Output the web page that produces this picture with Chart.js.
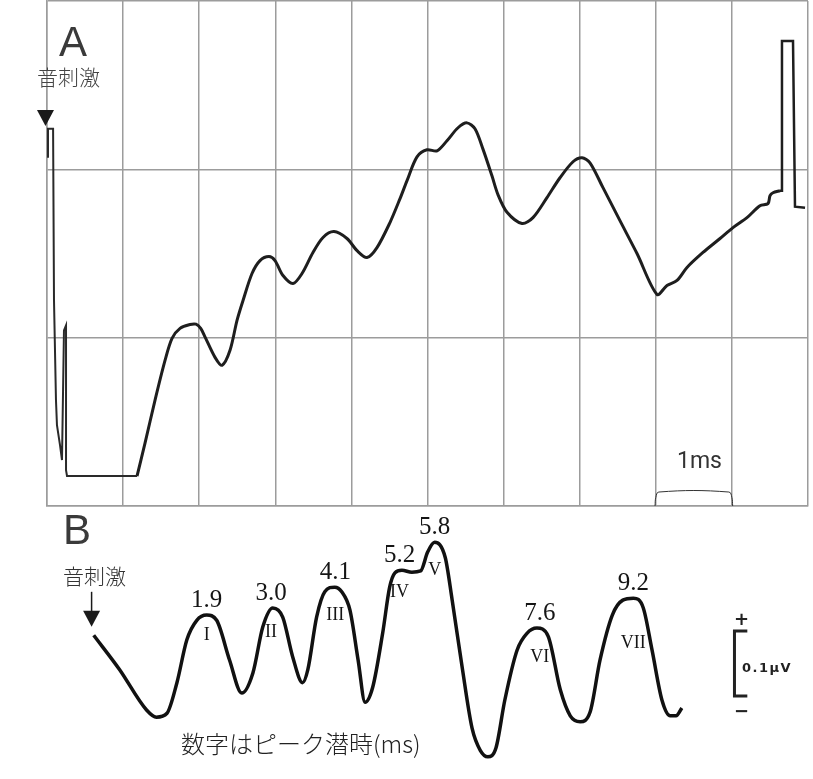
<!DOCTYPE html>
<html>
<head>
<meta charset="utf-8">
<script src="https://cdn.jsdelivr.net/npm/chart.js@4.4.0/dist/chart.umd.min.js"></script>
<style>
  body { margin: 0; background: #fff; width: 813px; height: 779px; position: relative; overflow: hidden; }
  canvas { position: absolute; left: 0; }
  #chartA { top: 0; }
  #chartB { top: 510px; }
  .lbl { position: absolute; white-space: nowrap; line-height: 1; }
  .letter { font-family: "Liberation Sans", sans-serif; font-size: 42px; color: #3a3a3a; }
  .jp { font-family: "Noto Sans CJK JP", sans-serif; font-weight: 300; color: #333; }
</style>
</head>
<body>
<canvas id="chartA" width="813" height="512"></canvas>
<canvas id="chartB" width="813" height="269"></canvas>

<div class="lbl letter" style="left:59px; top:21px;">A</div>
<div class="lbl jp" style="left:37px; top:66px; font-size:21px; color:#444;">音刺激</div>
<div class="lbl" style="left:677px; top:449px; font-family:Roboto, sans-serif; font-size:23px; color:#333;">1ms</div>

<div class="lbl letter" style="left:63px; top:509px;">B</div>
<div class="lbl jp" style="left:63px; top:565px; font-size:21px;">音刺激</div>
<div class="lbl jp" style="left:181px; top:731px; font-size:24px; color:#222;">数字はピーク潜時(ms)</div>

<div class="lbl" style="left:734px; top:610px; font-family:'DejaVu Sans', sans-serif; font-weight:bold; font-size:18px; color:#222;">+</div>
<div class="lbl" style="left:734px; top:702px; font-family:'DejaVu Sans', sans-serif; font-weight:bold; font-size:18px; color:#222;">−</div>
<div class="lbl" style="left:742px; top:661px; font-family:'DejaVu Sans', sans-serif; font-weight:bold; font-size:13px; letter-spacing:1.5px; color:#222;">0.1μV</div>

<script>
// ---- panel A: raw recording, x in ms, y in grid divisions ----
// stimulus artefact + flat baseline (straight segments)
const aStimT = [0.013, 0.013, 0.08, 0.092, 0.118, 0.131, 0.171, 0.197, 0.223, 0.25, 0.25, 0.263, 1.183];
const aStimV = [2.069, 2.241, 2.241, 1.221, 0.628, 0.48, 0.362, 0.273, 1.043, 1.073, 0.213, 0.178, 0.178];

const aWaveT = [1.183, 1.288, 1.419, 1.551, 1.643, 1.748, 1.879, 1.958, 2.02, 2.076,
  2.208, 2.3, 2.405, 2.497, 2.576, 2.694, 2.799, 2.917, 2.996, 3.101,
  3.233, 3.351, 3.495, 3.627, 3.771, 3.942, 4.074, 4.205, 4.336, 4.507,
  4.639, 4.731, 4.862, 4.993, 5.125, 5.256, 5.401, 5.519, 5.624, 5.729,
  5.848, 5.926, 6.045, 6.242, 6.386, 6.57, 6.741, 6.912, 7.03, 7.135,
  7.306, 7.529, 7.753, 8.016, 8.147, 8.279, 8.41, 8.62, 8.844, 9.014,
  9.198, 9.369, 9.474, 9.501, 9.54, 9.632];
const aWaveV = [0.178, 0.373, 0.628, 0.865, 0.996, 1.055, 1.078, 1.08, 1.055, 1.005,
  0.883, 0.836, 0.925, 1.103, 1.221, 1.381, 1.458, 1.482, 1.458, 1.369,
  1.322, 1.381, 1.506, 1.595, 1.63, 1.589, 1.517, 1.476, 1.535, 1.684,
  1.826, 1.933, 2.074, 2.116, 2.11, 2.17, 2.247, 2.276, 2.241, 2.12,
  1.96, 1.85, 1.745, 1.678, 1.713, 1.832, 1.95, 2.045, 2.069, 2.039,
  1.891, 1.695, 1.5, 1.257, 1.31, 1.34, 1.417, 1.506, 1.589, 1.654,
  1.713, 1.784, 1.796, 1.844, 1.861, 1.873];

const aPulseT = [9.632, 9.658, 9.658, 9.803, 9.829, 9.961];
const aPulseV = [1.873, 1.873, 2.762, 2.762, 1.778, 1.772];

// 1 ms time marker
const barT = [7.99, 8.0, 8.04, 8.96, 9.0, 9.01];
const barV = [0, 0.05, 0.083, 0.083, 0.05, 0];

const stimA = -0.02;   // stimulus arrow time
const stimAV = 2.258;  // arrow tip level

// ---- panel B: averaged ABR, x in ms, y in µV ----
const bTime = [-0.034, 0.41, 0.87, 1.04, 1.22, 1.39, 1.56, 1.73, 1.9, 2.07,
  2.29, 2.5, 2.69, 2.86, 3.03, 3.2, 3.37, 3.54, 3.63, 3.78,
  3.92, 4.09, 4.21, 4.35, 4.49, 4.61, 4.74, 4.91, 5.03, 5.12,
  5.24, 5.41, 5.56, 5.68, 5.8, 5.98, 6.1, 6.27, 6.44, 6.58,
  6.71, 6.85, 7.0, 7.21, 7.38, 7.55, 7.74, 7.95, 8.12, 8.29,
  8.46, 8.63, 8.84, 9.02, 9.2, 9.37, 9.52, 9.69, 9.83, 9.93, 10.03];
const bAmp = [0.215, 0.162, 0.1, 0.089, 0.095, 0.142, 0.208, 0.238, 0.246, 0.238,
  0.177, 0.126, 0.157, 0.228, 0.257, 0.243, 0.182, 0.142, 0.162, 0.243,
  0.282, 0.289, 0.282, 0.254, 0.177, 0.112, 0.135, 0.218, 0.289, 0.311,
  0.315, 0.312, 0.314, 0.343, 0.358, 0.335, 0.269, 0.166, 0.072, 0.038,
  0.028, 0.042, 0.115, 0.192, 0.218, 0.226, 0.214, 0.131, 0.091, 0.082,
  0.097, 0.177, 0.246, 0.269, 0.272, 0.257, 0.192, 0.115, 0.091, 0.091, 0.103];

const peakLatency = [1.9, 3.0, 4.1, 5.2, 5.8, 7.6, 9.2];
const peakNames = ['I', 'II', 'III', 'IV', 'V', 'VI', 'VII'];
const peakAmp = [0.246, 0.257, 0.289, 0.315, 0.358, 0.226, 0.272];

// 0.1 µV calibration bracket
const calT = [11.15, 10.93, 10.93, 11.15];
const calV = [0.2215, 0.2215, 0.1215, 0.1215];

const stimB = -0.07;
const stimBV = 0.228;

const gridColor = '#9c9c9c';

function pts(xs, ys) {
    return xs.map((x, i) => ({x: x, y: ys[i]}));
}

function hiddenAxis(min, max, isX, showGrid) {
    return {
        type: 'linear', min: min, max: max,
        ticks: {display: false, stepSize: 1},
        grid: {display: showGrid, color: gridColor, lineWidth: 1.5, drawTicks: false},
        border: {display: showGrid, color: gridColor, width: 1.5},
        afterFit(s) { if (isX) s.height = 0; else s.width = 0; }
    };
}

// triangle arrow for the stimulus mark
function drawArrow(ctx, x, tipY, stem) {
    ctx.save();
    ctx.fillStyle = '#1a1a1a';
    ctx.strokeStyle = '#1a1a1a';
    ctx.lineWidth = 1.5;
    if (stem) {
        ctx.beginPath();
        ctx.moveTo(x, tipY - 15 - stem);
        ctx.lineTo(x, tipY - 15);
        ctx.stroke();
    }
    ctx.beginPath();
    ctx.moveTo(x - 8.5, tipY - 16);
    ctx.lineTo(x + 8.5, tipY - 16);
    ctx.lineTo(x, tipY);
    ctx.closePath();
    ctx.fill();
    ctx.restore();
}

const arrowA = {
    id: 'arrowA',
    afterDatasetsDraw(chart) {
        const {x, y} = chart.scales;
        drawArrow(chart.ctx, x.getPixelForValue(stimA), y.getPixelForValue(stimAV), 0);
    }
};

// peak latencies above, roman numerals below each peak
const romanDrop = [25, 29, 33, 27, 33, 34, 50];
const peakLabels = {
    id: 'peakLabels',
    afterDatasetsDraw(chart) {
        const {ctx, scales: {x, y}} = chart;
        ctx.save();
        ctx.fillStyle = '#151515';
        ctx.textAlign = 'center';
        ctx.textBaseline = 'alphabetic';
        peakLatency.forEach((lat, i) => {
            const px = x.getPixelForValue(lat);
            const py = y.getPixelForValue(peakAmp[i]);
            ctx.font = '25px "Liberation Serif"';
            ctx.fillText(lat.toFixed(1), px, py - 8);
            ctx.font = '18px "Liberation Serif"';
            ctx.fillText(peakNames[i], px, py + romanDrop[i]);
        });
        ctx.restore();
        drawArrow(ctx, x.getPixelForValue(stimB), y.getPixelForValue(stimBV), 20);
    }
};

const common = {
    responsive: false,
    animation: false,
    events: [],
    plugins: {legend: {display: false}, tooltip: {enabled: false}},
    elements: {point: {radius: 0}}
};

new Chart(document.getElementById('chartA'), {
    type: 'line',
    data: {
        datasets: [
            {data: pts(aStimT, aStimV), borderColor: '#2a2a2a', borderWidth: 2, tension: 0},
            {data: pts(aWaveT, aWaveV), borderColor: '#1e1e1e', borderWidth: 3, tension: 0.3},
            {data: pts(aPulseT, aPulseV), borderColor: '#1e1e1e', borderWidth: 2.5, tension: 0},
            {data: pts(barT, barV), borderColor: '#333', borderWidth: 1, tension: 0.4}
        ]
    },
    options: Object.assign({}, common, {
        layout: {padding: {left: 47, right: 5, top: 1, bottom: 6}},
        scales: {
            x: hiddenAxis(0, 10, true, true),
            y: hiddenAxis(0, 3, false, true)
        }
    }),
    plugins: [arrowA]
});

new Chart(document.getElementById('chartB'), {
    type: 'line',
    data: {
        datasets: [
            {data: pts(bTime, bAmp), borderColor: '#111', borderWidth: 3.5, cubicInterpolationMode: 'monotone'},
            {data: pts(calT, calV), borderColor: '#222', borderWidth: 3, tension: 0}
        ]
    },
    options: Object.assign({}, common, {
        layout: {padding: {left: 84, right: 16, top: 5, bottom: 4}},
        scales: {
            x: hiddenAxis(-0.2, 12, true, false),
            y: hiddenAxis(0, 0.4, false, false)
        }
    }),
    plugins: [peakLabels]
});
</script>
</body>
</html>
